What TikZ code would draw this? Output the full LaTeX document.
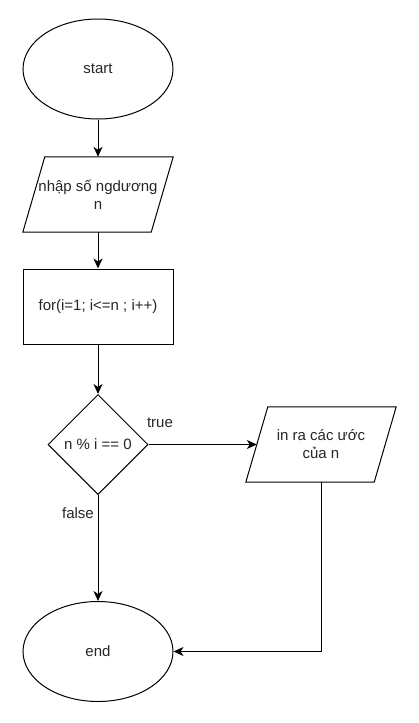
\documentclass[tikz,border=0pt]{standalone}
\usepackage{fontspec}
\setmainfont{Liberation Sans}
\usetikzlibrary{shapes.geometric,arrows.meta}
\begin{document}
\begin{tikzpicture}[x=1pt,y=1pt,
  every node/.style={font=\fontsize{15}{18}\selectfont, text=black!85},
  line/.style={line width=1pt, draw=black},
  arrow/.style={line, -{Stealth[length=10pt,width=9pt,inset=3pt]}},
  term/.style={line, ellipse, minimum width=150pt, minimum height=100pt, inner sep=0pt},
  procbox/.style={line, rectangle, minimum width=150pt, minimum height=75pt, inner sep=0pt},
  iobox/.style={draw=none, rectangle, minimum width=128pt, minimum height=75pt, inner sep=0pt, align=center},
  decide/.style={line, diamond, minimum width=100pt, minimum height=100pt, inner sep=0pt},
  lbl/.style={inner sep=0pt}
]
\useasboundingbox (0,0) rectangle (419,-723);
\node[term] (start) at (98,-69) {start};
\node[iobox] (inp) at (98,-194.5) {nhập số ngdương\\n};
\draw[line] ([xshift=-11pt]inp.south west) -- ([xshift=-11pt]inp.south east) -- ([xshift=11pt]inp.north east) -- ([xshift=11pt]inp.north west) -- cycle;
\node[procbox] (loop) at (98,-306.5) {for(i=1; i<=n ; i++)};
\node[decide] (cond) at (98,-444.5) {n \% i == 0};
\node[iobox] (out) at (321,-444.5) {in ra các ước\\của n};
\draw[line] ([xshift=-11pt]out.south west) -- ([xshift=-11pt]out.south east) -- ([xshift=11pt]out.north east) -- ([xshift=11pt]out.north west) -- cycle;
\node[term] (end) at (98,-651.5) {end};
\node[lbl] (ltrue) at (160,-423) {true};
\node[lbl] (lfalse) at (78,-513) {false};
\draw[arrow] (start) -- (inp);
\draw[arrow] (inp) -- (loop);
\draw[arrow] (loop) -- (cond);
\draw[arrow] (cond.east) -- (out.west);
\draw[arrow] (cond.south) -- (end.north);
\draw[arrow] (out.south) |- (end.east);
\end{tikzpicture}
\end{document}
